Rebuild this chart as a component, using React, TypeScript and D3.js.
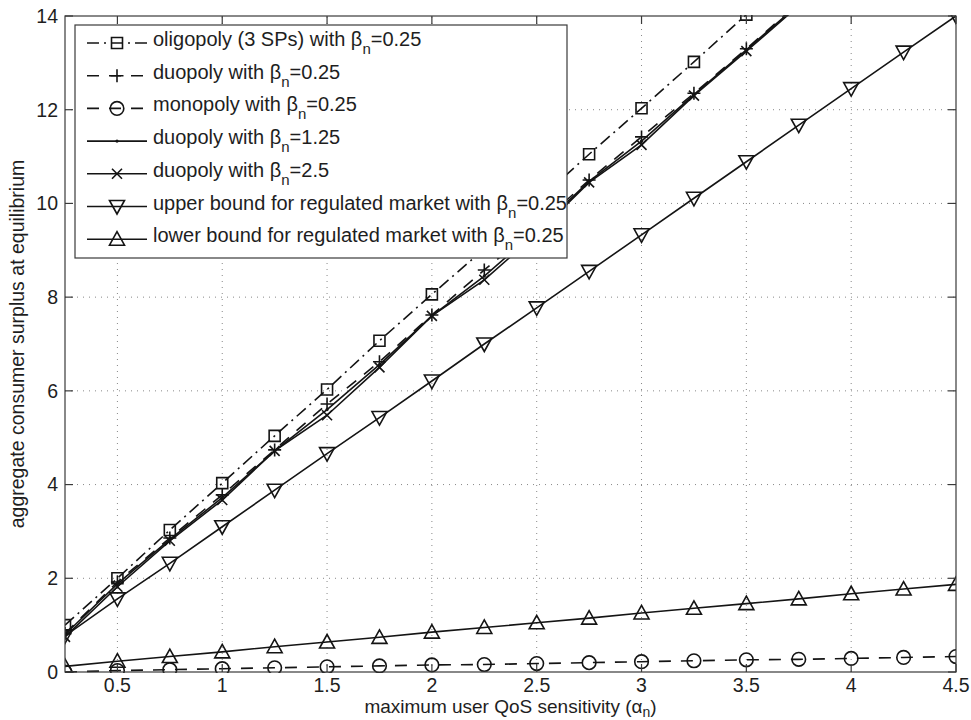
import React, { useEffect, useRef } from 'react';
import * as d3 from 'd3';

// maximum user QoS sensitivity (alpha_n)
const alpha = [0.25, 0.5, 0.75, 1.0, 1.25, 1.5, 1.75, 2.0, 2.25, 2.5, 2.75, 3.0, 3.25, 3.5, 3.75, 4.0, 4.25, 4.5];

const oligopoly = [1.0, 2.0, 3.03, 4.03, 5.04, 6.03, 7.07, 8.06, 9.03, 10.04, 11.05, 12.03, 13.02, 14.03, 15.03, 16.04, 17.04, 18.05];
const duopoly025 = [0.82, 1.92, 2.86, 3.78, 4.74, 5.72, 6.62, 7.62, 8.58, 9.5, 10.5, 11.42, 12.35, 13.3, 14.28, 15.25, 16.22, 17.2];
const monopoly = [0.0, 0.03, 0.05, 0.07, 0.09, 0.11, 0.13, 0.15, 0.16, 0.18, 0.2, 0.22, 0.24, 0.26, 0.27, 0.29, 0.31, 0.33];
const duopoly125 = [0.8, 1.88, 2.83, 3.72, 4.72, 5.6, 6.56, 7.6, 8.45, 9.42, 10.47, 11.33, 12.32, 13.28, 14.25, 15.2, 16.18, 17.15];
const duopoly25 = [0.75, 1.82, 2.8, 3.67, 4.72, 5.48, 6.5, 7.6, 8.37, 9.35, 10.45, 11.25, 12.3, 13.25, 14.22, 15.18, 16.15, 17.12];
const upperBound = [0.77, 1.56, 2.32, 3.1, 3.88, 4.66, 5.43, 6.21, 7.0, 7.77, 8.55, 9.33, 10.11, 10.89, 11.67, 12.45, 13.23, 14.0];
const lowerBound = [0.12, 0.23, 0.33, 0.43, 0.54, 0.64, 0.74, 0.85, 0.95, 1.05, 1.15, 1.26, 1.36, 1.46, 1.56, 1.67, 1.77, 1.87];

const xTicks = [0.5, 1, 1.5, 2, 2.5, 3, 3.5, 4, 4.5];
const yTicks = [0, 2, 4, 6, 8, 10, 12, 14];

const series = [
  { label: 'oligopoly (3 SPs) with ', beta: '0.25', values: oligopoly, dash: '12,5,2,5', marker: 'square' },
  { label: 'duopoly with ', beta: '0.25', values: duopoly025, dash: '12,10', marker: 'plus' },
  { label: 'monopoly with ', beta: '0.25', values: monopoly, dash: '12,10', marker: 'circle' },
  { label: 'duopoly with ', beta: '1.25', values: duopoly125, dash: null, marker: 'dot' },
  { label: 'duopoly with ', beta: '2.5', values: duopoly25, dash: null, marker: 'x' },
  { label: 'upper bound for regulated market with ', beta: '0.25', values: upperBound, dash: null, marker: 'tridown' },
  { label: 'lower bound for regulated market with ', beta: '0.25', values: lowerBound, dash: null, marker: 'triup' },
];

const FONT = '"Liberation Sans", Arial, Helvetica, sans-serif';
const INK = '#141414';

function drawMarker(g, type, x, y) {
  if (type === 'circle') {
    g.append('circle').attr('cx', x).attr('cy', y).attr('r', 6.8)
      .attr('fill', 'none').attr('stroke', INK).attr('stroke-width', 1.6);
    return;
  }
  if (type === 'dot') {
    g.append('circle').attr('cx', x).attr('cy', y).attr('r', 1.6).attr('fill', INK);
    return;
  }
  const paths = {
    square: 'M-5.5,-5.5h11v11h-11Z',
    plus: 'M-6.5,0H6.5M0,-6.5V6.5',
    x: 'M-5,-5L5,5M-5,5L5,-5',
    tridown: 'M-7.5,-6L7.5,-6L0,7.5Z',
    triup: 'M0,-7.5L7.5,6L-7.5,6Z',
  };
  g.append('path').attr('d', paths[type]).attr('transform', `translate(${x},${y})`)
    .attr('fill', 'none').attr('stroke', INK).attr('stroke-width', 1.6);
}

const App = () => {
  const svgRef = useRef();

  useEffect(() => {
    const width = 971;
    const height = 720;
    const margin = { top: 16, right: 15, bottom: 48, left: 65 };

    d3.select(svgRef.current).selectAll('*').remove();
    const svg = d3.select(svgRef.current).attr('width', width).attr('height', height);

    const xScale = d3.scaleLinear().domain([0.25, 4.5]).range([margin.left, width - margin.right]);
    const yScale = d3.scaleLinear().domain([0, 14]).range([height - margin.bottom, margin.top]);
    const [x0, x1] = xScale.range();
    const [y0, y1] = yScale.range();

    svg.append('rect').attr('width', width).attr('height', height).attr('fill', '#fff');

    // grid
    const grid = svg.append('g').attr('stroke', '#888').attr('stroke-width', 1).attr('stroke-dasharray', '1,5');
    xTicks.filter(t => t < 4.5).forEach(t => {
      grid.append('line').attr('x1', xScale(t)).attr('x2', xScale(t)).attr('y1', y0).attr('y2', y1);
    });
    yTicks.filter(t => t > 0 && t < 14).forEach(t => {
      grid.append('line').attr('x1', x0).attr('x2', x1).attr('y1', yScale(t)).attr('y2', yScale(t));
    });

    svg.append('clipPath').attr('id', 'plot-clip')
      .append('rect').attr('x', x0).attr('y', y1 - 1).attr('width', x1 - x0).attr('height', y0 - y1 + 2);

    const plot = svg.append('g').attr('clip-path', 'url(#plot-clip)');
    const line = d3.line().x(d => xScale(d[0])).y(d => yScale(d[1]));

    series.forEach(s => {
      const pts = alpha.map((a, i) => [a, s.values[i]]);
      plot.append('path').attr('d', line(pts)).attr('fill', 'none')
        .attr('stroke', INK).attr('stroke-width', 1.6)
        .attr('stroke-dasharray', s.dash);
      pts.filter(p => p[1] <= 14.05).forEach(p => drawMarker(plot, s.marker, xScale(p[0]), yScale(p[1])));
    });

    // axes box and ticks
    const axis = svg.append('g').attr('stroke', '#3a3a3a').attr('stroke-width', 1.2);
    axis.append('rect').attr('x', x0).attr('y', y1).attr('width', x1 - x0).attr('height', y0 - y1).attr('fill', 'none');
    const tl = 8;
    xTicks.forEach(t => {
      const x = xScale(t);
      axis.append('line').attr('x1', x).attr('x2', x).attr('y1', y0).attr('y2', y0 - tl);
      axis.append('line').attr('x1', x).attr('x2', x).attr('y1', y1).attr('y2', y1 + tl);
    });
    yTicks.forEach(t => {
      const y = yScale(t);
      axis.append('line').attr('x1', x0).attr('x2', x0 + tl).attr('y1', y).attr('y2', y);
      axis.append('line').attr('x1', x1).attr('x2', x1 - tl).attr('y1', y).attr('y2', y);
    });

    const text = svg.append('g').attr('font-family', FONT).attr('font-size', 19.5).attr('fill', '#1e1e1e');
    xTicks.forEach(t => {
      text.append('text').attr('x', xScale(t)).attr('y', y0 + 20).attr('text-anchor', 'middle').text(t);
    });
    yTicks.forEach(t => {
      text.append('text').attr('x', x0 - 7).attr('y', yScale(t)).attr('dy', '0.35em')
        .attr('text-anchor', 'end').text(t);
    });

    const xl = text.append('text').attr('x', (x0 + x1) / 2).attr('y', 713).attr('font-size', 19)
      .attr('text-anchor', 'middle');
    xl.append('tspan').text('maximum user QoS sensitivity (\u03b1');
    xl.append('tspan').attr('font-size', 14).attr('dy', 4).text('n');
    xl.append('tspan').attr('dy', -4).text(')');

    text.append('text').attr('transform', `translate(24,${(y0 + y1) / 2}) rotate(-90)`)
      .attr('font-size', 19.5).attr('text-anchor', 'middle').text('aggregate consumer surplus at equilibrium');

    // legend
    const lg = svg.append('g');
    lg.append('rect').attr('x', 75).attr('y', 25).attr('width', 492).attr('height', 233)
      .attr('fill', '#fff').attr('stroke', '#3a3a3a').attr('stroke-width', 1.2);
    series.forEach((s, i) => {
      const y = 43 + i * 32.7;
      lg.append('line').attr('x1', 87).attr('x2', 147).attr('y1', y).attr('y2', y)
        .attr('stroke', INK).attr('stroke-width', 1.6).attr('stroke-dasharray', s.dash);
      drawMarker(lg, s.marker, 117, y);
      const t = lg.append('text').attr('x', 153).attr('y', y + 3)
        .attr('font-family', FONT).attr('font-size', 20).attr('fill', '#1e1e1e');
      t.append('tspan').text(s.label + '\u03b2');
      t.append('tspan').attr('font-size', 15).attr('dy', 8).text('n');
      t.append('tspan').attr('dy', -8).text('=' + s.beta);
    });
  }, []);

  return (
    <svg ref={svgRef} style={{ position: 'absolute', left: 0, top: 0, display: 'block' }}></svg>
  );
};

export default App;
